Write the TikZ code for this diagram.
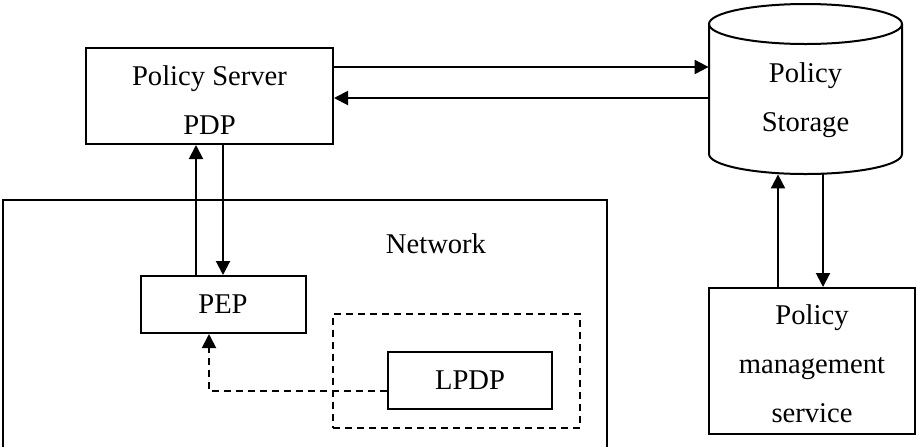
\documentclass[tikz,border=0pt]{standalone}
\usepackage{fontspec}
\setmainfont{Liberation Serif}
\usetikzlibrary{arrows.meta}
\begin{document}
\begin{tikzpicture}[x=0.5pt,y=-0.5pt,
  every node/.style={font=\fontsize{14.3pt}{24.5pt}\selectfont, align=center, inner sep=0pt},
  blk/.style={draw, line width=1pt, rectangle},
  dblk/.style={blk, dash pattern=on 3.5pt off 2.5pt},
  edge/.style={line width=1pt},
  link/.style={line width=1pt, -{Triangle[length=7pt,width=7pt]}},
  dlink/.style={link, dash pattern=on 3.5pt off 2.5pt}]
\useasboundingbox (0,0) rectangle (919,446);

% policy server
\node[blk, minimum width=123.5pt, minimum height=48pt] (ps) at (209.5,96) {};
\node (pstext) at (209.5,100) {Policy Server\\PDP};

% network frame, open towards the bottom
\draw[edge] (3,447) -- (3,200) -- (607,200) -- (607,447);
\node (net) at (436,244) {Network};

% enforcement point and local decision point
\node[blk, minimum width=82.5pt, minimum height=28.5pt] (pep) at (223,304.5) {PEP};
\node[blk, dash pattern=on 3.5pt off 2.5pt, minimum width=123.5pt, minimum height=57pt] (lbox) at (456.5,371) {};
\node[blk, minimum width=82pt, minimum height=28.5pt] (lpdp) at (470,380.5) {LPDP};

% policy storage cylinder
\node[minimum width=96.5pt, minimum height=85pt] (st) at (805.5,89) {};
\draw[edge] (709,24) -- (709,154)
  arc[start angle=180, end angle=360, x radius=48.25pt, y radius=10pt] -- (902,24);
\draw[edge] (805.5,24) ellipse [x radius=48.25pt, y radius=10pt];
\node (sttext) at (805.5,100) {Policy\\Storage};

% policy management service
\node[blk, minimum width=103pt, minimum height=73pt] (pms) at (812,361) {};
\node (pmstext) at (812,364) {Policy\\management\\service};

% connectors
\draw[link] ([yshift=-10pt]ps.north east) -- ([yshift=-10pt]ps.north east -| st.west);
\draw[link] ([yshift=-1pt]ps.east -| st.west) -- ([yshift=-1pt]ps.east);
\draw[link] ([xshift=-13.5pt]pep.north) -- ([xshift=-13.5pt]pep.north |- ps.south);
\draw[link] (pep.north |- ps.south) -- (pep.north);
\draw[dlink] ([yshift=-5pt]lpdp.west) -| ([xshift=-7pt]pep.south);
\draw[link] ([xshift=-17pt]pms.north) -- ([xshift=-17pt]pms.north |- st.south);
\draw[link] ([xshift=5.5pt]pms.north |- st.south) -- ([xshift=5.5pt]pms.north);
\end{tikzpicture}
\end{document}
